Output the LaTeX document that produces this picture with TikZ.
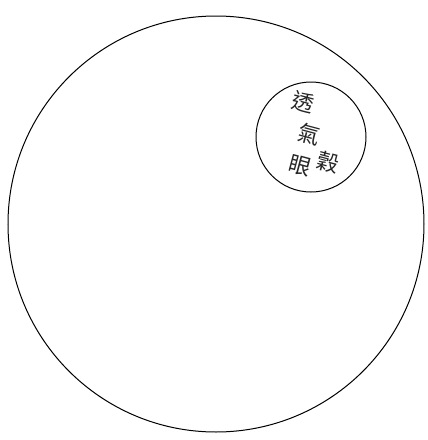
\documentclass[tikz,border=0pt]{standalone}
\usepackage{fontspec}
\newfontfamily\cjk{Noto Sans CJK TC}
\begin{document}
\begin{tikzpicture}[x=1pt,y=-1pt,
  outline/.style={draw=black,line width=1pt},
  glyph/.style={font=\cjk\fontsize{22}{22}\selectfont,inner sep=0pt,text=black!85}]
\useasboundingbox (0,0) rectangle (428,440);
\fill[white] (0,0) rectangle (428,440);
\node[outline,circle,minimum size=416pt,inner sep=0pt] (big) at (216,224) {};
\node[outline,circle,minimum size=110pt,inner sep=0pt] (small) at (311,137) {};
\node[glyph,rotate=-15] (c1) at (303,102) {透};
\node[glyph,rotate=-15] (c2) at (309,134) {氣};
\node[glyph,rotate=-15] (c3) at (300,166) {眼};
\node[glyph,rotate=-15] (c4) at (328,162) {穀};
\end{tikzpicture}
\end{document}
